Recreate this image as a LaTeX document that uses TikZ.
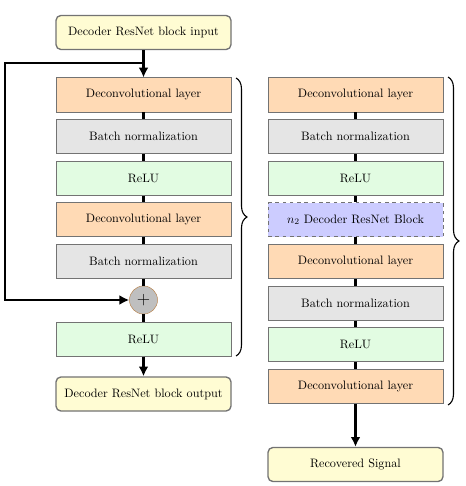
\documentclass[tikz,border=0pt]{standalone}
\usepackage{amsmath}
\usepackage{tikz}
\usetikzlibrary{arrows.meta,decorations.pathreplacing}
\definecolor{deconvc}{HTML}{FFDAB5}
\definecolor{bnc}{HTML}{E5E5E5}
\definecolor{reluc}{HTML}{E2FCE2}
\definecolor{blockc}{HTML}{CCCCFF}
\definecolor{ioc}{HTML}{FFFCD3}
\tikzset{%
  layer/.style={draw=black!55,line width=0.8pt,minimum width=143.5pt,minimum height=27.9pt,inner sep=0pt},
  deconv/.style={layer,fill=deconvc},
  bnorm/.style={layer,fill=bnc},
  relu/.style={layer,fill=reluc},
  resblk/.style={layer,fill=blockc,dashed},
  iobox/.style={layer,fill=ioc,rounded corners=4pt,line width=1.1pt},
  addnode/.style={draw=orange!60!black!70,shape=circle,fill=black!25,minimum size=23pt,inner sep=0,font=\Large},
  link/.style={draw=black,line width=2.2pt},
  flow/.style={link,-{Latex[length=8pt,width=8pt]}},
  bigbrace/.style={decorate,decoration={brace,amplitude=9pt},draw=black,line width=0.9pt}
}
\begin{document}
\begin{tikzpicture}[x=0.82pt,y=-0.82pt]
    \useasboundingbox (0,0) rectangle (465,486);
    % left column: one decoder ResNet block
    \path
      (143.5,32.5) node (in)[iobox]{Decoder ResNet block input}
      (143.5,95)   node (l1)[deconv]{Deconvolutional layer}
      (143.5,136.6) node (l2)[bnorm]{Batch normalization}
      (143.5,178.2) node (l3)[relu]{ReLU}
      (143.5,219.8) node (l4)[deconv]{Deconvolutional layer}
      (143.5,261.4) node (l5)[bnorm]{Batch normalization}
      (143.5,300)  node (add)[addnode]{$+$}
      (143.5,339)  node (l6)[relu]{ReLU}
      (143.5,394)  node (out)[iobox]{Decoder ResNet block output};
    \coordinate (skip) at (143.5,63);
    \draw[flow] (in) -- (l1);
    \draw[link] (l1) -- (l2);
    \draw[link] (l2) -- (l3);
    \draw[link] (l3) -- (l4);
    \draw[link] (l4) -- (l5);
    \draw[link] (l5) -- (add);
    \draw[link] (add) -- (l6);
    \draw[flow] (l6) -- (out);
    \draw[flow] (skip) -| (5,300) -- (add);
    \draw[bigbrace] (236,78) -- (236,356);
    % right column: decoder
    \path
      (355.5,95)   node (r1)[deconv]{Deconvolutional layer}
      (355.5,136.6) node (r2)[bnorm]{Batch normalization}
      (355.5,178.2) node (r3)[relu]{ReLU}
      (355.5,219.8) node (r4)[resblk]{$n_2$ Decoder ResNet Block}
      (355.5,261.4) node (r5)[deconv]{Deconvolutional layer}
      (355.5,303)  node (r6)[bnorm]{Batch normalization}
      (355.5,344.6) node (r7)[relu]{ReLU}
      (355.5,386.2) node (r8)[deconv]{Deconvolutional layer}
      (355.5,464.5) node (rec)[iobox]{Recovered Signal};
    \draw[link] (r1) -- (r2);
    \draw[link] (r2) -- (r3);
    \draw[link] (r3) -- (r4);
    \draw[link] (r4) -- (r5);
    \draw[link] (r5) -- (r6);
    \draw[link] (r6) -- (r7);
    \draw[link] (r7) -- (r8);
    \draw[flow] (r8) -- (rec);
    \draw[bigbrace] (448,77) -- (448,405);
  \end{tikzpicture}
\end{document}
